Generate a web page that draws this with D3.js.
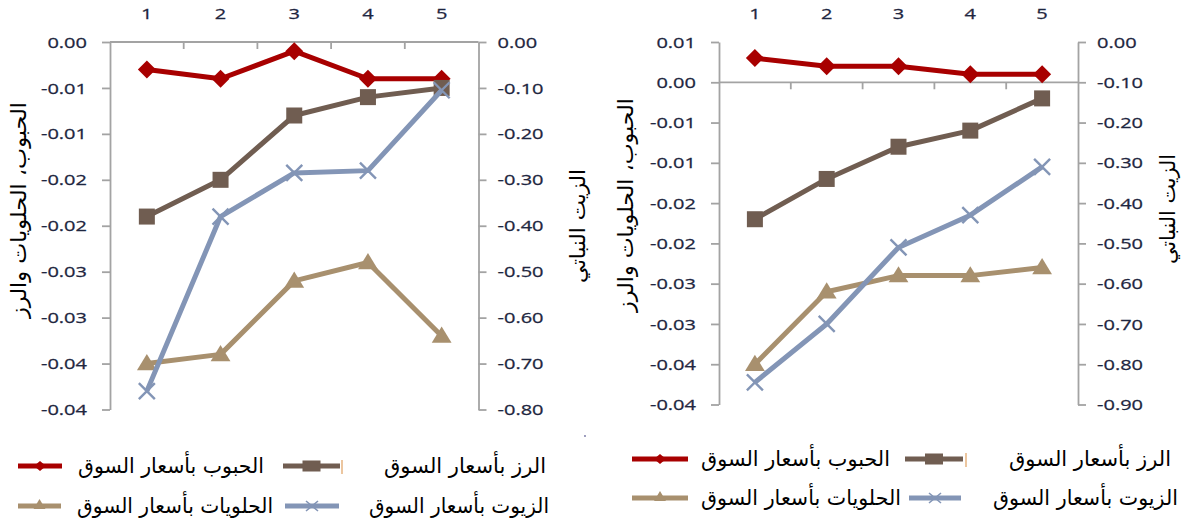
<!DOCTYPE html>
<html>
<head>
<meta charset="utf-8">
<script src="https://cdn.jsdelivr.net/npm/d3@7"></script>
<style>
  html, body { margin: 0; padding: 0; background: #ffffff; }
  svg { display: block; }
</style>
</head>
<body>
<svg id="fig" width="1193" height="525"></svg>
<script>
// ---- data ----
const categories = ["1", "2", "3", "4", "5"];

// left panel
const grainsA = [-0.003, -0.004, -0.001, -0.004, -0.004];
const riceA   = [-0.019, -0.015, -0.008, -0.006, -0.005];
const sweetsA = [-0.035, -0.034, -0.026, -0.024, -0.032];
const oilsA   = [-0.76, -0.38, -0.285, -0.28, -0.105];
const leftTickValuesA  = [0, -0.005, -0.01, -0.015, -0.02, -0.025, -0.03, -0.035, -0.04];
const leftTickLabelsA  = ["0.00", "-0.01", "-0.01", "-0.02", "-0.02", "-0.03", "-0.03", "-0.04", "-0.04"];
const rightTickValuesA = [0, -0.1, -0.2, -0.3, -0.4, -0.5, -0.6, -0.7, -0.8];
const rightTickLabelsA = ["0.00", "-0.10", "-0.20", "-0.30", "-0.40", "-0.50", "-0.60", "-0.70", "-0.80"];

// right panel
const grainsB = [0.003, 0.002, 0.002, 0.001, 0.001];
const riceB   = [-0.017, -0.012, -0.008, -0.006, -0.002];
const sweetsB = [-0.035, -0.026, -0.024, -0.024, -0.023];
const oilsB   = [-0.845, -0.70, -0.51, -0.43, -0.31];
const leftTickValuesB  = [0.005, 0, -0.005, -0.01, -0.015, -0.02, -0.025, -0.03, -0.035, -0.04];
const leftTickLabelsB  = ["0.01", "0.00", "-0.01", "-0.01", "-0.02", "-0.02", "-0.03", "-0.03", "-0.04", "-0.04"];
const rightTickValuesB = [0, -0.1, -0.2, -0.3, -0.4, -0.5, -0.6, -0.7, -0.8, -0.9];
const rightTickLabelsB = ["0.00", "-0.10", "-0.20", "-0.30", "-0.40", "-0.50", "-0.60", "-0.70", "-0.80", "-0.90"];

const seriesNames = ["الحبوب بأسعار السوق", "الرز بأسعار السوق", "الحلويات بأسعار السوق", "الزيوت بأسعار السوق"];
const leftAxisTitle = "الحبوب، الحلويات والرز";
const rightAxisTitle = "الزيت النباتي";

// ---- styles ----
const COLORS = { grains: "#A80000", rice: "#705D51", sweets: "#A8906E", oils: "#8395B6" };
const AXIS_COLOR = "#A3A3A3";
const NUM_COLOR = "#1E2640";
const NUM_FONT = "'Open Sans', sans-serif";
const AR_FONT = "'DejaVu Sans', sans-serif";
const AR_SIZE = 21;
const NUM_STRETCH = 1.38;

const svg = d3.select("#fig");

// marker painters, centred on (0,0)
function drawMarker(g, kind, color, s) {
  if (kind === "diamond") {
    g.append("path").attr("d", `M0,${-s}L${s},0L0,${s}L${-s},0Z`).attr("fill", color);
  } else if (kind === "square") {
    g.append("rect").attr("x", -s).attr("y", -s).attr("width", 2 * s).attr("height", 2 * s).attr("fill", color);
  } else if (kind === "triangle") {
    g.append("path").attr("d", `M0,${-s * 1.05}L${s * 1.1},${s * 0.75}L${-s * 1.1},${s * 0.75}Z`).attr("fill", color);
  } else if (kind === "x") {
    g.append("path").attr("d", `M${-s},${-s}L${s},${s}M${-s},${s}L${s},${-s}`)
      .attr("stroke", color).attr("stroke-width", 2.4).attr("fill", "none");
  }
}

function numText(sel) {
  sel.attr("font-family", NUM_FONT).attr("font-size", 14.5).attr("fill", NUM_COLOR)
    .attr("stroke", NUM_COLOR).attr("stroke-width", 0.25);
}

function drawPanel(cfg) {
  const g = svg.append("g");
  const x = d3.scaleBand().domain(categories).range([cfg.x0, cfg.x1]).padding(0);
  const cx = c => x(c) + x.bandwidth() / 2;
  const yL = d3.scaleLinear().domain(cfg.leftDomain).range([cfg.y1, cfg.y0]);
  const yR = d3.scaleLinear().domain(cfg.rightDomain).range([cfg.y1, cfg.y0]);

  // primary (left) value axis
  const axL = g.append("g").attr("transform", `translate(${cfg.x0},0)`)
    .call(d3.axisLeft(yL).tickValues(cfg.leftTicks)
      .tickFormat((d, i) => cfg.leftLabels[i]).tickSize(8).tickSizeOuter(0));
  // secondary (right) value axis
  const axR = g.append("g").attr("transform", `translate(${cfg.x1},0)`)
    .call(d3.axisRight(yR).tickValues(cfg.rightTicks)
      .tickFormat((d, i) => cfg.rightLabels[i]).tickSize(8).tickSizeOuter(0));

  [axL, axR].forEach(ax => {
    ax.select(".domain").attr("stroke", AXIS_COLOR).attr("stroke-width", 1.8);
    ax.selectAll(".tick line").attr("stroke", AXIS_COLOR).attr("stroke-width", 1.8);
    ax.selectAll(".tick text").call(numText).attr("dy", "0.35em");
  });
  axL.selectAll(".tick text").attr("x", null).attr("text-anchor", "end")
    .attr("transform", `translate(-23,0) scale(${NUM_STRETCH},1)`);
  axR.selectAll(".tick text").attr("x", null).attr("text-anchor", "start")
    .attr("transform", `translate(19,0) scale(${NUM_STRETCH},1)`);

  // category axis sits on the zero line of the primary scale
  const yZero = yL(0);
  g.append("line").attr("x1", cfg.x0).attr("x2", cfg.x1).attr("y1", yZero).attr("y2", yZero)
    .attr("stroke", AXIS_COLOR).attr("stroke-width", 1.8);
  g.selectAll(".cat-tick").data(categories.slice(1)).join("line")
    .attr("x1", c => x(c)).attr("x2", c => x(c))
    .attr("y1", yZero).attr("y2", yZero + 7)
    .attr("stroke", AXIS_COLOR).attr("stroke-width", 1.8);
  g.selectAll(".cat-label").data(categories).join("text")
    .attr("transform", c => `translate(${cx(c)},${cfg.catLabelY}) scale(${NUM_STRETCH},1)`)
    .attr("text-anchor", "middle").attr("dy", "0.35em")
    .call(numText).text(c => c);

  // series
  const series = [
    { values: cfg.grains, scale: yL, color: COLORS.grains, marker: "diamond", size: 9 },
    { values: cfg.rice,   scale: yL, color: COLORS.rice,   marker: "square",  size: 8 },
    { values: cfg.sweets, scale: yL, color: COLORS.sweets, marker: "triangle", size: 9 },
    { values: cfg.oils,   scale: yR, color: COLORS.oils,   marker: "x",       size: 8 }
  ];
  series.forEach(s => {
    const pts = categories.map((c, i) => [cx(c), s.scale(s.values[i])]);
    g.append("path").attr("d", d3.line()(pts)).attr("fill", "none")
      .attr("stroke", s.color).attr("stroke-width", 5).attr("stroke-linejoin", "round");
    pts.forEach(p => {
      const m = g.append("g").attr("transform", `translate(${p[0]},${p[1]})`);
      drawMarker(m, s.marker, s.color, s.size);
    });
  });

  // axis titles
  g.append("text").attr("transform", `translate(${cfg.leftTitle.x},${cfg.leftTitle.y}) rotate(-90)`)
    .attr("text-anchor", "middle").attr("dy", "0.35em")
    .attr("font-family", AR_FONT).attr("font-size", AR_SIZE).attr("fill", "#000")
    .attr("textLength", cfg.leftTitle.len).attr("lengthAdjust", "spacingAndGlyphs")
    .text(leftAxisTitle);
  g.append("text").attr("transform", `translate(${cfg.rightTitle.x},${cfg.rightTitle.y}) rotate(-90)`)
    .attr("text-anchor", "middle").attr("dy", "0.35em")
    .attr("font-family", AR_FONT).attr("font-size", AR_SIZE).attr("fill", "#000")
    .attr("textLength", cfg.rightTitle.len).attr("lengthAdjust", "spacingAndGlyphs")
    .text(rightAxisTitle);

  // legend
  const lg = g.append("g");
  cfg.legend.forEach(item => {
    const s = series[item.series];
    lg.append("line").attr("x1", item.m0).attr("x2", item.m1).attr("y1", item.y).attr("y2", item.y)
      .attr("stroke", s.color).attr("stroke-width", 5);
    const m = lg.append("g").attr("transform", `translate(${(item.m0 + item.m1) / 2},${item.y})`);
    if (s.marker === "square") {
      m.append("rect").attr("x", -9).attr("y", -5.5).attr("width", 18).attr("height", 11).attr("fill", s.color);
    } else if (s.marker === "diamond") {
      m.append("path").attr("d", "M0,-5L6,0L0,5L-6,0Z").attr("fill", s.color);
    } else if (s.marker === "triangle") {
      m.append("path").attr("d", "M0,-7L6,3L-6,3Z").attr("fill", s.color);
    } else {
      m.append("path").attr("d", "M-6,-5L6,5M-6,5L6,-5").attr("stroke", s.color).attr("stroke-width", 1.6);
    }
    lg.append("text").attr("x", item.tx).attr("y", item.y).attr("dy", "0.35em")
      .attr("text-anchor", "start")
      .attr("font-family", AR_FONT).attr("font-size", AR_SIZE).attr("fill", "#000")
      .attr("textLength", item.tw).attr("lengthAdjust", "spacingAndGlyphs")
      .text(seriesNames[item.series]);
  });
  // small stray separator next to the second legend key
  lg.append("line").attr("x1", cfg.sep.x).attr("x2", cfg.sep.x)
    .attr("y1", cfg.sep.y - 7).attr("y2", cfg.sep.y + 7)
    .attr("stroke", "#E0A060").attr("stroke-width", 1.2);
}

drawPanel({
  x0: 110, x1: 478.5, y0: 42, y1: 409.5, catLabelY: 14,
  leftDomain: [-0.04, 0], rightDomain: [-0.8, 0],
  leftTicks: leftTickValuesA, leftLabels: leftTickLabelsA,
  rightTicks: rightTickValuesA, rightLabels: rightTickLabelsA,
  grains: grainsA, rice: riceA, sweets: sweetsA, oils: oilsA,
  leftTitle: { x: 19, y: 210, len: 216 },
  rightTitle: { x: 578, y: 226, len: 114 },
  legend: [
    { series: 0, m0: 18, m1: 62, tx: 78, tw: 186, y: 466 },
    { series: 1, m0: 283, m1: 340, tx: 384, tw: 162, y: 466 },
    { series: 2, m0: 18, m1: 61, tx: 77, tw: 196, y: 506 },
    { series: 3, m0: 285, m1: 339, tx: 369, tw: 180, y: 506 }
  ],
  sep: { x: 342, y: 467 }
});

drawPanel({
  x0: 719, x1: 1078, y0: 42, y1: 404.5, catLabelY: 14,
  leftDomain: [-0.04, 0.005], rightDomain: [-0.9, 0],
  leftTicks: leftTickValuesB, leftLabels: leftTickLabelsB,
  rightTicks: rightTickValuesB, rightLabels: rightTickLabelsB,
  grains: grainsB, rice: riceB, sweets: sweetsB, oils: oilsB,
  leftTitle: { x: 626, y: 205, len: 214 },
  rightTitle: { x: 1168, y: 209, len: 110 },
  legend: [
    { series: 0, m0: 632, m1: 688, tx: 701, tw: 189, y: 459 },
    { series: 1, m0: 905, m1: 963, tx: 1009, tw: 162, y: 459 },
    { series: 2, m0: 632, m1: 688, tx: 701, tw: 200, y: 498 },
    { series: 3, m0: 909, m1: 961, tx: 993, tw: 185, y: 498 }
  ],
  sep: { x: 966, y: 460 }
});

// faint dot below the left panel
svg.append("circle").attr("cx", 585).attr("cy", 436).attr("r", 0.9).attr("fill", "#7070A0");
</script>
</body>
</html>
